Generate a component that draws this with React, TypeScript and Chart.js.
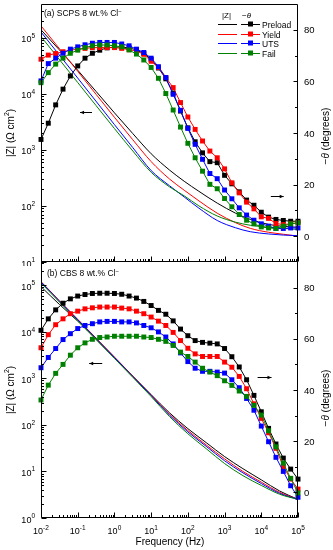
import { useEffect, useRef } from 'react';
import { Chart, registerables } from 'chart.js';

Chart.register(...registerables);

const FONT = '"Liberation Sans", Arial, Helvetica, sans-serif';

const seriesNames = ['Preload', 'Yield', 'UTS', 'Fail'];
const seriesColors = ['#000000', '#ff0000', '#0000ff', '#008000'];

// frequencies of the phase-angle markers (Hz)
const phaseFreq = [0.01, 0.0158, 0.0251, 0.0398, 0.0631, 0.1, 0.158, 0.251, 0.398, 0.631, 1, 1.58, 2.51, 3.98, 6.31, 10, 15.8, 25.1, 39.8, 63.1, 100, 158, 251, 398, 631, 1000, 1580, 2510, 3980, 6310, 10000, 15800, 25100, 39800, 63100, 100000];

// ---------- panel (a) SCPS ----------
const zFreqA = [0.01, 0.1, 1, 3.16, 10, 31.6, 79.4, 200, 631, 2000, 5010, 15800, 39800, 100000];
const logZPreloadA = [5.14, 4.42, 3.66, 3.29, 2.93, 2.64, 2.44, 2.26, 2.05, 1.87, 1.76, 1.67, 1.635, 1.62];
const logZYieldA = [5.21, 4.40, 3.58, 3.18, 2.79, 2.48, 2.28, 2.09, 1.87, 1.70, 1.60, 1.53, 1.495, 1.46];
const logZUTSA = [5.10, 4.28, 3.45, 3.04, 2.63, 2.36, 2.16, 1.96, 1.74, 1.61, 1.54, 1.50, 1.48, 1.47];
const logZFailA = [5.02, 4.20, 3.38, 2.98, 2.60, 2.34, 2.18, 2.00, 1.82, 1.71, 1.655, 1.62, 1.60, 1.58];

const phasePreloadA = [37.5, 43.8, 50.9, 57.0, 62.1, 66.0, 69.0, 70.9, 72.1, 73.0, 73.3, 73.3, 73.0, 72.2, 70.8, 68.5, 65.2, 61.0, 55.5, 48.5, 42.0, 36.6, 32.3, 28.9, 28.5, 23.6, 20.3, 17.2, 14.0, 12.0, 9.3, 7.4, 6.5, 6.1, 5.8, 5.8];
const phaseYieldA = [68.6, 70.2, 70.8, 71.5, 72.1, 72.5, 72.8, 73.1, 73.1, 73.1, 73.1, 72.8, 72.3, 71.8, 70.5, 67.8, 65.4, 61.5, 57.6, 51.8, 46.2, 41.4, 36.9, 33.0, 30.4, 26.1, 20.7, 16.8, 13.2, 10.6, 7.5, 6.9, 4.9, 4.5, 4.8, 5.2];
const phaseUTSA = [60.2, 66.9, 69.0, 70.9, 72.5, 73.4, 74.2, 74.8, 75.1, 75.1, 75.1, 74.5, 73.8, 72.5, 71.2, 69.0, 65.7, 61.5, 55.0, 48.8, 41.8, 35.6, 29.8, 24.3, 22.3, 17.9, 14.5, 11.0, 8.2, 6.2, 4.8, 3.9, 3.0, 3.0, 3.2, 3.2];
const phaseFailA = [59.5, 63.4, 66.7, 69.0, 70.9, 72.1, 73.1, 73.8, 74.1, 74.1, 73.8, 73.4, 72.2, 70.6, 68.3, 65.4, 61.2, 55.3, 48.9, 42.3, 36.0, 30.4, 25.2, 20.1, 18.4, 14.6, 11.4, 8.4, 6.2, 4.8, 3.6, 3.2, 3.0, 3.9, 4.8, 5.2];

// ---------- panel (b) CBS ----------
const zFreqB = [0.01, 0.0316, 0.1, 1, 10, 31.6, 100, 316, 1000, 3160, 10000, 31600, 100000];
const logZPreloadB = [4.97, 4.59, 4.23, 3.44, 2.65, 2.26, 1.92, 1.62, 1.32, 1.06, 0.82, 0.58, 0.40];
const logZYieldB = [5.08, 4.67, 4.27, 3.46, 2.64, 2.23, 1.88, 1.57, 1.27, 1.00, 0.77, 0.55, 0.40];
const logZUTSB = [5.07, 4.66, 4.26, 3.45, 2.63, 2.21, 1.85, 1.54, 1.23, 0.97, 0.74, 0.53, 0.40];
const logZFailB = [5.05, 4.64, 4.24, 3.43, 2.61, 2.18, 1.81, 1.49, 1.17, 0.91, 0.70, 0.51, 0.40];

const phasePreloadB = [63.3, 67.8, 71.3, 73.9, 75.6, 76.7, 77.3, 77.7, 77.8, 77.8, 77.7, 77.4, 76.7, 75.9, 74.6, 73.0, 71.1, 69.6, 67.0, 63.8, 61.2, 59.3, 58.6, 58.3, 58.0, 56.2, 53.0, 49.0, 44.0, 37.9, 31.5, 25.0, 18.9, 13.4, 9.1, 5.2];
const phaseYieldB = [56.5, 61.6, 65.5, 67.8, 69.8, 70.8, 71.7, 72.1, 72.4, 72.4, 72.4, 72.0, 71.7, 70.8, 69.8, 68.5, 66.9, 65.2, 62.5, 59.3, 56.3, 54.1, 53.1, 53.1, 53.1, 50.9, 48.9, 45.3, 40.5, 34.6, 28.9, 23.3, 17.2, 10.1, 5.2, 1.3];
const phaseUTSB = [48.7, 52.7, 56.2, 59.7, 62.0, 64.0, 65.2, 65.9, 66.6, 66.8, 66.8, 66.6, 66.6, 66.2, 65.2, 64.3, 62.7, 60.7, 58.0, 54.5, 51.1, 48.5, 47.3, 47.3, 47.0, 46.6, 44.0, 40.9, 36.7, 32.1, 25.9, 19.8, 13.7, 8.2, 2.6, -1.9];
const phaseFailB = [36.1, 41.9, 46.5, 50.0, 53.6, 56.5, 58.4, 59.8, 60.5, 60.7, 61.0, 61.0, 61.0, 61.0, 60.7, 60.5, 59.8, 59.0, 57.4, 54.8, 53.1, 50.9, 48.5, 47.0, 45.6, 43.6, 41.8, 39.6, 37.5, 34.0, 30.2, 24.1, 17.8, 11.4, 5.5, -0.2];

// axis ticks
const xTickExps = [-2, -1, 0, 1, 2, 3, 4, 5];
const leftTickExpsA = [1, 2, 3, 4, 5];
const leftTickExpsB = [0, 1, 2, 3, 4, 5];
const degTicks = [0, 20, 40, 60, 80];

type Seg = { t: string; size: number; style?: string; dy?: number };

function drawSegs(ctx: CanvasRenderingContext2D, segs: Seg[], x: number, y: number, align: 'left' | 'center' | 'right') {
  let total = 0;
  const widths = segs.map((s) => {
    ctx.font = `${s.style || ''} ${s.size}px ${FONT}`;
    const w = ctx.measureText(s.t).width;
    total += w;
    return w;
  });
  let cx = align === 'left' ? x : align === 'center' ? x - total / 2 : x - total;
  ctx.textAlign = 'left';
  segs.forEach((s, i) => {
    ctx.font = `${s.style || ''} ${s.size}px ${FONT}`;
    ctx.fillText(s.t, cx, y + (s.dy || 0));
    cx += widths[i];
  });
}

function rotSegs(ctx: CanvasRenderingContext2D, segs: Seg[], x: number, y: number) {
  ctx.save();
  ctx.translate(x, y);
  ctx.rotate(-Math.PI / 2);
  ctx.textBaseline = 'middle';
  drawSegs(ctx, segs, 0, 0, 'center');
  ctx.restore();
}

function arrow(ctx: CanvasRenderingContext2D, x1: number, x2: number, y: number) {
  const yy = Math.round(y) + 0.5;
  const dir = x2 > x1 ? 1 : -1;
  ctx.beginPath();
  ctx.moveTo(x1, yy);
  ctx.lineTo(x2, yy);
  ctx.stroke();
  ctx.beginPath();
  ctx.moveTo(x2, yy);
  ctx.lineTo(x2 - dir * 4, yy - 1.8);
  ctx.lineTo(x2 - dir * 4, yy + 1.8);
  ctx.closePath();
  ctx.fill();
}

type Panel = {
  id: string;
  zFreq: number[];
  logZ: number[][];
  phase: number[][];
  zMin: number;
  zMax: number;
  leftExps: number[];
  padTop: number;
  padBottom: number;
  height: number;
  top: number;
  innerTop: boolean;
  label: string;
  labelDx: number;
  labelDy: number;
  xLabels: boolean;
  legend: boolean;
  arrowZ: { from: number; to: number; z: number };
  arrowP: { from: number; to: number; deg: number };
  rightTitleShift: number;
};

function makeDecor(p: Panel) {
  return {
    id: 'decor' + p.id,
    afterDraw(chart: any) {
      const ctx: CanvasRenderingContext2D = chart.ctx;
      const area = chart.chartArea;
      const xs = chart.scales.x;
      const yl = chart.scales.yL;
      const yr = chart.scales.yR;
      ctx.save();
      ctx.strokeStyle = '#000';
      ctx.fillStyle = '#000';
      ctx.lineWidth = 1;
      const L = area.left + 0.5;
      const R = area.right - 0.5;
      const T = p.innerTop ? area.top + 0.5 : area.top - 0.5;
      const B = area.bottom - 0.5;
      ctx.beginPath();
      ctx.rect(L, T, R - L, B - T);
      ctx.stroke();

      ctx.beginPath();
      for (let e = -2; e <= 5; e++) {
        for (let m = 1; m <= 9; m++) {
          const v = m * Math.pow(10, e);
          if (v > 1.0001e5) continue;
          const px = Math.round(xs.getPixelForValue(v)) + 0.5;
          const len = m === 1 ? 5 : 2.5;
          ctx.moveTo(px, B);
          ctx.lineTo(px, B - len);
        }
      }
      const e0 = Math.floor(Math.log10(p.zMin));
      const e1 = Math.ceil(Math.log10(p.zMax));
      for (let e = e0; e <= e1; e++) {
        for (let m = 1; m <= 9; m++) {
          const v = m * Math.pow(10, e);
          if (v < p.zMin * 0.999 || v > p.zMax * 1.001) continue;
          const py = Math.round(yl.getPixelForValue(v)) + 0.5;
          const len = m === 1 ? 5 : 2.5;
          ctx.moveTo(L, py);
          ctx.lineTo(L + len, py);
        }
      }
      for (let d = 0; d <= 80; d += 10) {
        const py = Math.round(yr.getPixelForValue(d)) + 0.5;
        const len = d % 20 === 0 ? 4 : 2.5;
        ctx.moveTo(R, py);
        ctx.lineTo(R - len, py);
      }
      ctx.stroke();

      ctx.textBaseline = 'alphabetic';
      p.leftExps.forEach((e) => {
        const py = yl.getPixelForValue(Math.pow(10, e));
        drawSegs(ctx, [{ t: '10', size: 9 }, { t: String(e), size: 6.5, dy: -4.5 }], 35, py + 4.5, 'right');
      });
      degTicks.forEach((d) => {
        const py = yr.getPixelForValue(d);
        drawSegs(ctx, [{ t: String(d), size: 9.5 }], R + 6.5, py + 3.5, 'left');
      });
      if (p.xLabels) {
        xTickExps.forEach((e) => {
          const px = xs.getPixelForValue(Math.pow(10, e));
          drawSegs(ctx, [{ t: '10', size: 9 }, { t: String(e), size: 6.5, dy: -4.5 }], px, area.bottom + 16, 'center');
        });
        drawSegs(ctx, [{ t: 'Frequency (Hz)', size: 10 }], 170, area.bottom + 26.5, 'center');
      }

      const cy = (area.top + area.bottom) / 2;
      rotSegs(ctx, [{ t: '|Z| (Ω cm', size: 10 }, { t: '2', size: 7, dy: -3.5 }, { t: ')', size: 10 }], 11, cy);
      rotSegs(ctx, [{ t: '−', size: 10 }, { t: 'θ', size: 10, style: 'italic' }, { t: ' (degrees)', size: 10 }], 326, cy + p.rightTitleShift);

      ctx.textBaseline = 'alphabetic';
      drawSegs(ctx, [{ t: p.label, size: 8.5 }, { t: '−', size: 6, dy: -3.5 }], area.left + p.labelDx, area.top + p.labelDy, 'left');

      arrow(ctx, xs.getPixelForValue(p.arrowZ.from), xs.getPixelForValue(p.arrowZ.to), yl.getPixelForValue(p.arrowZ.z));
      arrow(ctx, xs.getPixelForValue(p.arrowP.from), xs.getPixelForValue(p.arrowP.to), yr.getPixelForValue(p.arrowP.deg));

      if (p.legend) {
        drawSegs(ctx, [{ t: '|Z|', size: 8 }], 226.5, 17.5, 'center');
        drawSegs(ctx, [{ t: '−', size: 8 }, { t: 'θ', size: 8, style: 'italic' }], 242, 17.5, 'left');
        seriesNames.forEach((name, i) => {
          const y = Math.round(24 + i * 9.7) + 0.5;
          const c = seriesColors[i];
          ctx.strokeStyle = c;
          ctx.fillStyle = c;
          ctx.beginPath();
          ctx.moveTo(218, y);
          ctx.lineTo(237, y);
          ctx.moveTo(241, y);
          ctx.lineTo(260, y);
          ctx.stroke();
          ctx.fillRect(248, y - 3, 5, 5);
          ctx.fillStyle = '#000';
          ctx.textBaseline = 'alphabetic';
          drawSegs(ctx, [{ t: name, size: 8.5 }], 262, y + 3, 'left');
        });
      }
      ctx.restore();
    },
  };
}

function makeConfig(p: Panel): any {
  const datasets: any[] = [];
  for (let i = 3; i >= 0; i--) {
    const c = seriesColors[i];
    datasets.push({
      label: seriesNames[i] + ' -θ',
      data: phaseFreq.map((f, k) => ({ x: f, y: p.phase[i][k] })),
      yAxisID: 'yR',
      borderColor: c,
      backgroundColor: c,
      borderWidth: 1,
      pointStyle: 'rect',
      pointRadius: 3.5,
      pointBorderWidth: 0,
      pointBackgroundColor: c,
      tension: 0,
      clip: false,
    });
  }
  for (let i = 3; i >= 0; i--) {
    const c = seriesColors[i];
    datasets.push({
      label: seriesNames[i] + ' |Z|',
      data: p.zFreq.map((f, k) => ({ x: f, y: Math.pow(10, p.logZ[i][k]) })),
      yAxisID: 'yL',
      borderColor: c,
      backgroundColor: c,
      borderWidth: 1,
      pointRadius: 0,
      cubicInterpolationMode: 'monotone',
    });
  }
  return {
    type: 'line',
    data: { datasets },
    options: {
      responsive: false,
      animation: false,
      devicePixelRatio: 1,
      events: [],
      layout: { padding: { left: 41, right: 35, top: p.padTop, bottom: p.padBottom } },
      plugins: { legend: { display: false }, tooltip: { enabled: false } },
      scales: {
        x: { type: 'logarithmic', min: 0.01, max: 100000, display: false },
        yL: { type: 'logarithmic', position: 'left', min: p.zMin, max: p.zMax, display: false },
        yR: { type: 'linear', position: 'right', min: -10, max: 90, display: false },
      },
    },
    plugins: [makeDecor(p)],
  };
}

const panelA: Panel = {
  id: 'A',
  zFreq: zFreqA,
  logZ: [logZPreloadA, logZYieldA, logZUTSA, logZFailA],
  phase: [phasePreloadA, phaseYieldA, phaseUTSA, phaseFailA],
  zMin: 10,
  zMax: Math.pow(10, 5.6),
  leftExps: leftTickExpsA,
  padTop: 4,
  padBottom: 4,
  height: 266,
  top: 0,
  innerTop: true,
  label: '(a) SCPS 8 wt.% Cl',
  labelDx: 3,
  labelDy: 12,
  xLabels: false,
  legend: true,
  arrowZ: { from: 0.245, to: 0.116, z: 4700 },
  arrowP: { from: 18200, to: 40700, deg: 15.5 },
  rightTitleShift: 3,
};

const panelB: Panel = {
  id: 'B',
  zFreq: zFreqB,
  logZ: [logZPreloadB, logZYieldB, logZUTSB, logZFailB],
  phase: [phasePreloadB, phaseYieldB, phaseUTSB, phaseFailB],
  zMin: 1,
  zMax: Math.pow(10, 5.5),
  leftExps: leftTickExpsB,
  padTop: 4,
  padBottom: 32,
  height: 292,
  top: 258,
  innerTop: false,
  label: '(b) CBS 8 wt.% Cl',
  labelDx: 6,
  labelDy: 14,
  xLabels: true,
  legend: false,
  arrowZ: { from: 0.465, to: 0.205, z: 2140 },
  arrowP: { from: 7940, to: 19000, deg: 44.9 },
  rightTitleShift: 8,
};

export default function App() {
  const refA = useRef<HTMLCanvasElement>(null);
  const refB = useRef<HTMLCanvasElement>(null);
  useEffect(() => {
    const a = new Chart(refA.current as HTMLCanvasElement, makeConfig(panelA));
    const b = new Chart(refB.current as HTMLCanvasElement, makeConfig(panelB));
    return () => {
      a.destroy();
      b.destroy();
    };
  }, []);
  return (
    <div style={{ position: 'absolute', left: 0, top: 0, width: 333, height: 550, background: '#fff' }}>
      <canvas ref={refA} width={333} height={panelA.height} style={{ position: 'absolute', left: 0, top: panelA.top, width: 333, height: panelA.height }} />
      <canvas ref={refB} width={333} height={panelB.height} style={{ position: 'absolute', left: 0, top: panelB.top, width: 333, height: panelB.height }} />
    </div>
  );
}
